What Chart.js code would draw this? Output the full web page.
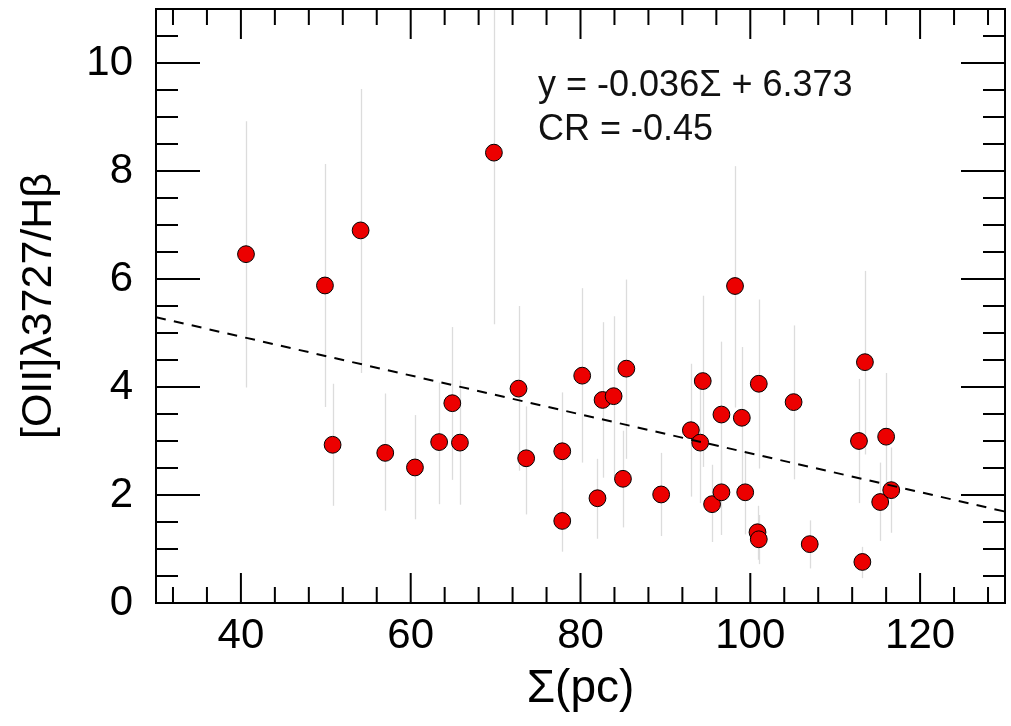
<!DOCTYPE html>
<html>
<head>
<meta charset="utf-8">
<title>[OII]/Hb vs Sigma</title>
<script src="https://cdn.jsdelivr.net/npm/chart.js@4.4.0/dist/chart.umd.min.js"></script>
<style>
    html, body { margin: 0; padding: 0; background: #ffffff; }
    #wrap { width: 1011px; height: 726px; }
</style>
</head>
<body>
<div id="wrap"><canvas id="sigmaChart" width="1011" height="726"></canvas></div>
<script>
// values
var sigmaPc = [40.6, 49.9, 50.8, 54.1, 57.0, 60.5, 63.35, 64.9, 65.8, 69.8,
               72.7, 73.6, 77.85, 77.85, 80.2, 82.0, 82.6, 83.9, 85.0, 85.4,
               89.5, 93.0, 94.1, 94.4, 95.5, 96.6, 96.6, 98.2, 99.0, 99.4,
               101.0, 100.85, 101.0, 105.1, 107.0, 112.8, 113.5, 113.2, 116.0, 115.3,
               116.6];
var oiiHb   = [6.46, 5.88, 2.93, 6.90, 2.78, 2.51, 2.98, 3.70, 2.97, 8.34,
               3.97, 2.68, 2.81, 1.52, 4.21, 1.94, 3.76, 3.83, 2.30, 4.34,
               2.01, 3.20, 2.97, 4.11, 1.83, 3.49, 2.05, 5.87, 3.43, 2.05,
               4.06, 1.31, 1.18, 3.72, 1.09, 3.00, 4.46, 0.76, 3.08, 1.87,
               2.09];
// lower / upper ends of the error bars
var errLow  = [3.99, 3.63, 1.80, 4.26, 1.71, 1.55, 1.83, 2.28, 1.82, 5.16,
               2.45, 1.64, 1.72, 0.95, 2.60, 1.19, 2.32, 2.35, 1.40, 2.67,
               1.24, 1.97, 1.85, 2.52, 1.13, 2.15, 1.26, 3.62, 2.10, 1.27,
               2.49, 0.80, 0.72, 2.29, 0.64, 1.85, 2.75, 0.46, 1.90, 1.15,
               1.30];
var errHigh = [8.92, 8.13, 4.06, 9.52, 3.88, 3.48, 4.08, 5.11, 4.12, 11.5,
               5.50, 3.64, 3.90, 2.10, 5.83, 2.67, 5.20, 5.31, 3.19, 5.99,
               2.78, 4.43, 4.26, 5.69, 2.56, 4.84, 2.83, 8.09, 4.74, 2.82,
               5.62, 1.80, 1.63, 5.14, 1.53, 4.15, 6.15, 1.04, 4.26, 2.60,
               2.88];

// fit line y = -0.036 S + 6.373, end points at the plot edges
var fitX = [30, 130];
var fitY = [5.293, 1.693];

var xTickLabels = [40, 60, 80, 100, 120];
var yTickLabels = [0, 2, 4, 6, 8, 10];
var fitText = ["y = -0.036\u03A3 + 6.373", "CR = -0.45"];

var FONT = "'Liberation Sans', Arial, Helvetica, sans-serif";

// light grey vertical error bars, behind the markers
var errorBars = {
    id: 'errorBars',
    beforeDatasetsDraw: function (chart) {
        var ctx = chart.ctx, a = chart.chartArea;
        var xs = chart.scales.x, ys = chart.scales.y;
        ctx.save();
        ctx.beginPath();
        ctx.rect(a.left, a.top, a.right - a.left, a.bottom - a.top);
        ctx.clip();
        ctx.strokeStyle = '#dcdcdc';
        ctx.lineWidth = 1.3;
        for (var i = 0; i < sigmaPc.length; i++) {
            var px = Math.round(xs.getPixelForValue(sigmaPc[i])) + 0.5;
            ctx.beginPath();
            ctx.moveTo(px, ys.getPixelForValue(errLow[i]));
            ctx.lineTo(px, ys.getPixelForValue(errHigh[i]));
            ctx.stroke();
        }
        ctx.restore();
    }
};

// box frame with inward ticks on all four sides + the fit annotation
var frameTicks = {
    id: 'frameTicks',
    afterDatasetsDraw: function (chart) {
        var ctx = chart.ctx, a = chart.chartArea;
        var xs = chart.scales.x, ys = chart.scales.y;
        var v, p, len;
        ctx.save();
        ctx.strokeStyle = '#000';
        ctx.lineWidth = 2;
        ctx.strokeRect(a.left, a.top, a.right - a.left, a.bottom - a.top);

        ctx.beginPath();
        for (v = 32; v < 130; v += 4) {
            p = xs.getPixelForValue(v);
            len = (v % 20 === 0) ? 30 : 16;
            ctx.moveTo(p, a.bottom); ctx.lineTo(p, a.bottom - len);
            ctx.moveTo(p, a.top); ctx.lineTo(p, a.top + len);
        }
        for (v = 0.5; v < 11; v += 0.5) {
            p = ys.getPixelForValue(v);
            len = (v % 2 === 0) ? 44 : 22;
            ctx.moveTo(a.left, p); ctx.lineTo(a.left + len, p);
            ctx.moveTo(a.right, p); ctx.lineTo(a.right - len, p);
        }
        ctx.stroke();

        ctx.fillStyle = '#111';
        ctx.font = '36px ' + FONT;
        ctx.textAlign = 'left';
        ctx.textBaseline = 'alphabetic';
        var tx = xs.getPixelForValue(75.0);
        ctx.fillText(fitText[0], tx, ys.getPixelForValue(9.38));
        ctx.fillText(fitText[1], tx, ys.getPixelForValue(8.58));
        ctx.restore();
    }
};

var ctx = document.getElementById('sigmaChart').getContext('2d');

new Chart(ctx, {
    type: 'scatter',
    data: {
        datasets: [{
            type: 'line',
            label: 'fit',
            data: fitX.map(function (x, i) { return { x: x, y: fitY[i] }; }),
            borderColor: '#000',
            borderWidth: 2,
            borderDash: [10, 8.3],
            pointRadius: 0,
            fill: false,
            order: 0
        }, {
            label: 'galaxies',
            data: sigmaPc.map(function (x, i) { return { x: x, y: oiiHb[i] }; }),
            backgroundColor: 'rgb(236, 0, 0)',
            borderColor: '#000',
            borderWidth: 1,
            pointRadius: 8.4,
            pointHoverRadius: 8.4,
            order: 1
        }]
    },
    options: {
        responsive: false,
        animation: false,
        devicePixelRatio: 1,
        layout: { autoPadding: false, padding: { left: 0, right: 6, top: 9, bottom: 0 } },
        plugins: {
            legend: { display: false },
            tooltip: { enabled: false }
        },
        scales: {
            x: {
                type: 'linear',
                min: 30,
                max: 130,
                afterBuildTicks: function (scale) {
                    scale.ticks = xTickLabels.map(function (v) { return { value: v }; });
                },
                afterFit: function (scale) {
                    scale.height = 123;
                    scale.paddingLeft = 0;
                    scale.paddingRight = 0;
                },
                grid: { display: false, drawTicks: false },
                border: { display: false },
                ticks: {
                    autoSkip: false,
                    maxRotation: 0,
                    padding: 8,
                    color: '#000',
                    font: { family: FONT, size: 42 }
                },
                title: {
                    display: true,
                    text: '\u03A3(pc)',
                    color: '#000',
                    font: { family: FONT, size: 46 },
                    padding: { top: 0, bottom: 9 }
                }
            },
            y: {
                min: 0,
                max: 11,
                afterBuildTicks: function (scale) {
                    scale.ticks = yTickLabels.map(function (v) { return { value: v }; });
                },
                afterFit: function (scale) {
                    scale.width = 156;
                    scale.paddingTop = 0;
                    scale.paddingBottom = 0;
                },
                grid: { display: false, drawTicks: false },
                border: { display: false },
                ticks: {
                    autoSkip: false,
                    padding: 23,
                    color: '#000',
                    font: { family: FONT, size: 42 }
                },
                title: {
                    display: true,
                    text: '[OII]\u03BB3727/H\u03B2',
                    color: '#000',
                    font: { family: FONT, size: 43 },
                    padding: { top: 13, bottom: 0 }
                }
            }
        }
    },
    plugins: [errorBars, frameTicks]
});
console.log("chart drawn");
</script>
</body>
</html>
